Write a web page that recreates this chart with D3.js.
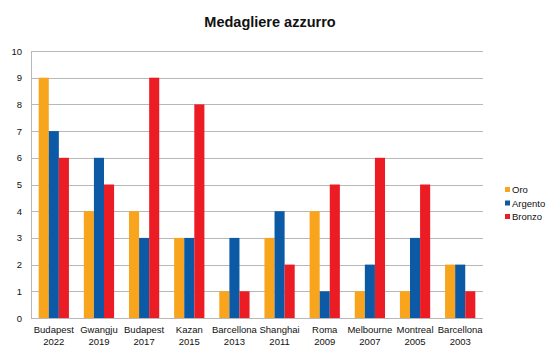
<!DOCTYPE html>
<html>
<head>
<meta charset="utf-8">
<script src="https://cdn.jsdelivr.net/npm/d3@7"></script>
<style>
    body { margin: 0; background: #fff; }
    svg { font-family: "Liberation Sans", Arial, sans-serif; }
    .axis path, .axis line { stroke: none; }
    .axis text { font-size: 9.5px; fill: #111; }
    .grid line { stroke: #b8b8b8; stroke-width: 1; }
</style>
</head>
<body>
<svg id="chart"></svg>
<script>
// data
const places = ['Budapest', 'Gwangju', 'Budapest', 'Kazan', 'Barcellona', 'Shanghai', 'Roma', 'Melbourne', 'Montreal', 'Barcellona'];
const years = ['2022', '2019', '2017', '2015', '2013', '2011', '2009', '2007', '2005', '2003'];
const series = ['Oro', 'Argento', 'Bronzo'];
const oro = [9, 4, 4, 3, 1, 3, 4, 1, 1, 2];
const argento = [7, 6, 3, 3, 3, 4, 1, 2, 3, 2];
const bronzo = [6, 5, 9, 8, 1, 2, 5, 6, 5, 1];
const yTicks = [0, 1, 2, 3, 4, 5, 6, 7, 8, 9, 10];

const colors = ['#f8a41c', '#0c5aa6', '#ec1c24'];

const width = 553, height = 352;
const margin = {top: 51, right: 70, bottom: 34, left: 31};
const w = width - margin.left - margin.right;
const h = height - margin.top - margin.bottom;

const events = places.map((p, i) => p + ' ' + years[i]);
const table = events.map((e, i) => ({event: e, values: [oro[i], argento[i], bronzo[i]]}));

const svg = d3.select('#chart')
    .attr('width', width)
    .attr('height', height);

const chart = svg.append('g')
    .attr('transform', `translate(${margin.left}, ${margin.top})`);

const x0 = d3.scaleBand()
    .domain(events)
    .range([0, w])
    .paddingInner(0.33)
    .paddingOuter(0.17);

const x1 = d3.scaleBand()
    .domain(series)
    .range([0, x0.bandwidth()]);

const y = d3.scaleLinear()
    .domain([0, 10])
    .range([h, 0]);

// gridlines
chart.append('g')
    .attr('class', 'grid')
    .selectAll('line')
    .data(yTicks)
    .join('line')
        .attr('x1', 0)
        .attr('x2', w)
        .attr('y1', d => Math.round(y(d)) + 0.5)
        .attr('y2', d => Math.round(y(d)) + 0.5);

chart.append('line')
    .attr('x1', 0.5).attr('x2', 0.5)
    .attr('y1', 0).attr('y2', h)
    .attr('stroke', '#b8b8b8');

// y axis
const yAxisG = chart.append('g')
    .attr('class', 'axis')
    .call(d3.axisLeft(y).tickValues(yTicks).tickSize(0).tickPadding(9));

// bars
const groups = chart.selectAll('.group')
    .data(table)
    .join('g')
        .attr('class', 'group')
        .attr('transform', d => `translate(${x0(d.event)}, 0)`);

groups.selectAll('rect')
    .data(d => d.values.map((v, i) => ({key: series[i], value: v, i: i})))
    .join('rect')
        .attr('x', d => x1(d.key))
        .attr('y', d => y(d.value))
        .attr('width', x1.bandwidth())
        .attr('height', d => h - y(d.value))
        .attr('fill', d => colors[d.i]);

// x axis labels (two lines)
const xAxisG = chart.append('g')
    .attr('class', 'axis')
    .attr('transform', `translate(0, ${h})`)
    .call(d3.axisBottom(x0).tickSize(0).tickFormat(''));

xAxisG.selectAll('.tick text').remove();
xAxisG.selectAll('.tick').each(function(d, i) {
    const t = d3.select(this).append('text')
        .attr('text-anchor', 'middle')
        .attr('fill', '#111');
    t.append('tspan').attr('x', 0).attr('y', 15).text(places[i]);
    t.append('tspan').attr('x', 0).attr('y', 27).text(years[i]);
});

// title
svg.append('text')
    .attr('x', 270)
    .attr('y', 27)
    .attr('text-anchor', 'middle')
    .style('font-size', '14.5px')
    .style('font-weight', 'bold')
    .attr('fill', '#111')
    .text('Medagliere azzurro');

// legend
const legend = svg.append('g')
    .attr('transform', 'translate(505, 190)');

const items = legend.selectAll('g')
    .data(series)
    .join('g')
        .attr('transform', (d, i) => `translate(0, ${i * 13.5})`);

items.append('rect')
    .attr('x', 0)
    .attr('y', -3)
    .attr('width', 5)
    .attr('height', 5)
    .attr('fill', (d, i) => colors[i]);

items.append('text')
    .attr('x', 7)
    .attr('y', 0)
    .attr('dy', '0.32em')
    .style('font-size', '9.5px')
    .attr('fill', '#111')
    .text(d => d);
</script>
</body>
</html>
